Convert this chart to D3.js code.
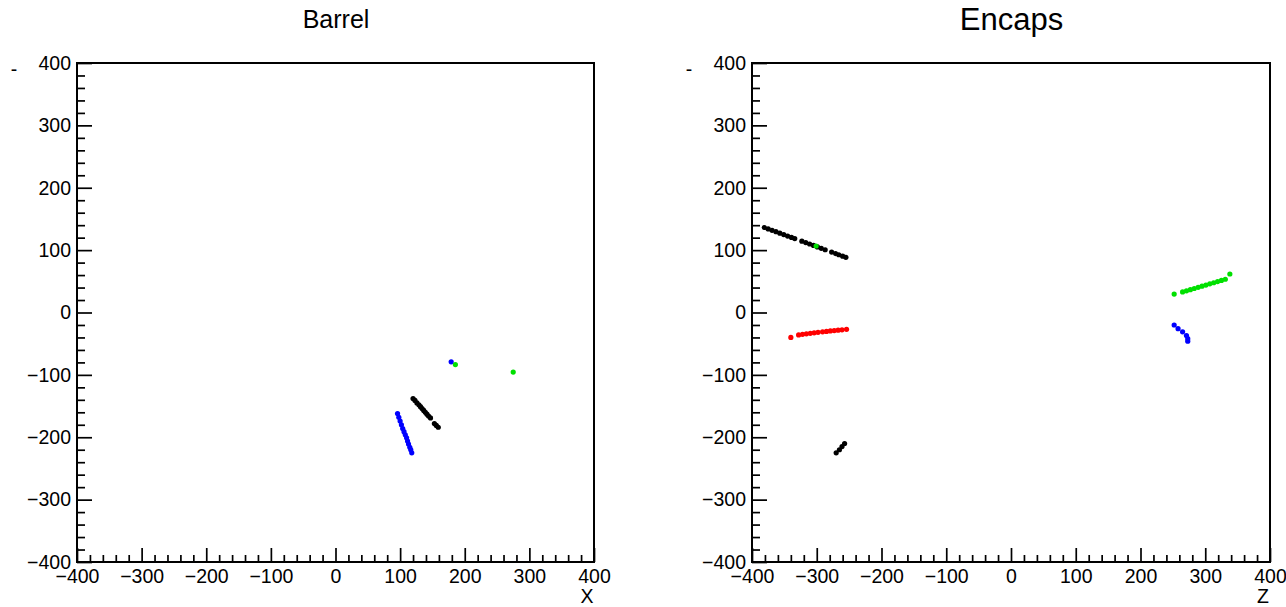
<!DOCTYPE html>
<html>
<head>
<meta charset="utf-8">
<script src="https://cdn.jsdelivr.net/npm/d3@7"></script>
<style>
  html, body { margin: 0; padding: 0; background: #fff; }
  svg { display: block; }
  text { font-family: "Liberation Sans", Arial, Helvetica, sans-serif; fill: #000; }
</style>
</head>
<body>
<svg id="chart" width="1286" height="607"></svg>
<script>
// ---- Barrel (X vs Y) hits ----
const barrelBlueX  = [96, 98, 100, 102, 104, 106, 108, 110, 111.5, 113, 115, 116.5, 118, 179];
const barrelBlueY  = [-162, -168, -174, -180, -186, -191, -196, -201, -206, -211, -216, -220, -225, -79];
const barrelBlackX = [120, 123, 126, 129, 131.5, 134, 136.5, 139, 141.5, 144, 147, 153, 156, 159];
const barrelBlackY = [-138, -141, -145, -148, -151, -154, -157, -160, -163, -166, -169, -178, -181, -184];
const barrelGreenX = [185.5, 275];
const barrelGreenY = [-83.5, -95.5];

// ---- Encaps (Z vs Y) hits ----
const encapBlackX = [-381, -375, -369, -363, -357, -351, -345, -339, -334,
                     -323, -317, -311, -305, -299, -293, -287,
                     -277, -271, -266, -260, -255,
                     -270, -265, -261, -257];
const encapBlackY = [136.3, 134, 131.7, 129.5, 127.2, 124.9, 122.6, 120.4, 118.5,
                     114.3, 112.1, 109.8, 107.5, 105.2, 102.9, 100.6,
                     96.8, 94.5, 92.6, 90.3, 88.4,
                     -225, -220, -215, -210];
const encapRedX   = [-340, -328, -322, -316, -310, -304, -298, -291, -285, -279, -273, -267, -261, -254];
const encapRedY   = [-40, -36, -35, -34.2, -33.4, -32.6, -31.8, -31, -30.3, -29.6, -29, -28.4, -27.8, -27];
const encapGreenX = [-301, 252, 265, 271, 277, 283, 289, 295, 301, 307, 313, 319, 325, 331, 338];
const encapGreenY = [106.6, 29.6, 33, 34.8, 36.6, 38.5, 40.3, 42.2, 44, 45.9, 47.7, 49.6, 51.4, 53.3, 61.7];
const encapBlueX  = [252, 258, 265, 271, 273, 273];
const encapBlueY  = [-20, -26, -31, -37, -42, -46];

// ---- axis settings ----
const axisDomain  = [-400, 400];
const majorTicks  = d3.range(-400, 401, 100);
const minorTicks  = d3.range(-400, 401, 20).filter(v => v % 100 !== 0);

const svg = d3.select("#chart");

function series(xs, ys, color) {
  return { pts: xs.map((x, i) => [x, ys[i]]), color };
}

const panels = [
  {
    title: "Barrel", titleSize: 25, titleY: 28, xLabel: "X",
    left: 77, right: 594, top: 63, bottom: 562,
    data: [
      series(barrelBlueX, barrelBlueY, "#0000ff"),
      series(barrelBlackX, barrelBlackY, "#000000"),
      series(barrelGreenX, barrelGreenY, "#00e000")
    ]
  },
  {
    title: "Encaps", titleSize: 31, titleY: 30, xLabel: "Z",
    left: 752, right: 1270, top: 63, bottom: 562,
    data: [
      series(encapBlackX, encapBlackY, "#000000"),
      series(encapRedX, encapRedY, "#ff0000"),
      series(encapGreenX, encapGreenY, "#00e000"),
      series(encapBlueX, encapBlueY, "#0000ff")
    ]
  }
];

const fmt = d3.format("d");
const labelSize = "19.5px";

panels.forEach(p => {
  const x = d3.scaleLinear().domain(axisDomain).range([p.left, p.right]);
  const y = d3.scaleLinear().domain(axisDomain).range([p.bottom, p.top]);
  const g = svg.append("g");

  // frame
  g.append("rect")
    .attr("x", p.left).attr("y", p.top)
    .attr("width", p.right - p.left).attr("height", p.bottom - p.top)
    .attr("fill", "none").attr("stroke", "#000").attr("stroke-width", 2);

  // minor ticks (inward)
  g.append("g").attr("transform", `translate(0,${p.bottom})`)
    .call(d3.axisBottom(x).tickValues(minorTicks).tickSize(-7).tickFormat(""))
    .call(a => a.select(".domain").remove())
    .call(a => a.selectAll("line").attr("stroke-width", 1.7));
  g.append("g").attr("transform", `translate(${p.left},0)`)
    .call(d3.axisLeft(y).tickValues(minorTicks).tickSize(-8).tickFormat(""))
    .call(a => a.select(".domain").remove())
    .call(a => a.selectAll("line").attr("stroke-width", 1.7));

  // major ticks + labels
  const xAx = g.append("g").attr("transform", `translate(0,${p.bottom})`)
    .call(d3.axisBottom(x).tickValues(majorTicks).tickSize(-14).tickPadding(3).tickFormat(fmt));
  xAx.select(".domain").remove();
  const yAx = g.append("g").attr("transform", `translate(${p.left},0)`)
    .call(d3.axisLeft(y).tickValues(majorTicks).tickSize(-15).tickPadding(6).tickFormat(fmt));
  yAx.select(".domain").remove();

  [xAx, yAx].forEach(a => {
    a.selectAll("line").attr("stroke", "#000").attr("stroke-width", 1.7);
    a.selectAll("text")
      .style("font-family", '"Liberation Sans", Arial, sans-serif')
      .style("font-size", labelSize).attr("fill", "#000");
  });
  xAx.selectAll("text").attr("dy", "0.9em");

  // points
  p.data.forEach(s => {
    g.append("g").selectAll("circle").data(s.pts).join("circle")
      .attr("cx", d => x(d[0])).attr("cy", d => y(d[1]))
      .attr("r", 2.6).attr("fill", s.color);
  });

  // title
  g.append("text")
    .attr("x", (p.left + p.right) / 2 + 0.5).attr("y", p.titleY)
    .attr("text-anchor", "middle")
    .style("font-size", p.titleSize + "px")
    .text(p.title);

  // axis titles
  g.append("text")
    .attr("x", p.right - 7).attr("y", 603)
    .attr("text-anchor", "middle")
    .style("font-size", labelSize)
    .text(p.xLabel);
  g.append("text")
    .attr("x", p.left - 63).attr("y", 76)
    .attr("text-anchor", "middle")
    .style("font-size", labelSize)
    .text("-");
});
</script>
</body>
</html>
